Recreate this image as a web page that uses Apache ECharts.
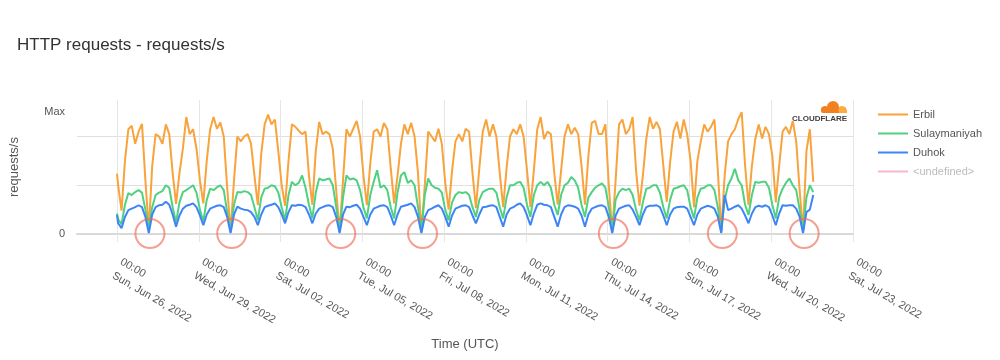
<!DOCTYPE html>
<html>
<head>
<meta charset="utf-8">
<script src="https://cdn.jsdelivr.net/npm/echarts@6/dist/echarts.min.js"></script>
<style>
html,body{margin:0;padding:0;background:#fff;}
#chart{width:1000px;height:360px;}
</style>
</head>
<body>
<div id="chart"></div>
<script>
// Series names
const seriesNames = ['Erbil', 'Sulaymaniyah', 'Duhok', '<undefined>'];
// x tick labels (every 3 days, starting Sun Jun 26 2022 00:00 UTC)
const tickLabels = [
  '00:00\nSun, Jun 26, 2022', '00:00\nWed, Jun 29, 2022', '00:00\nSat, Jul 02, 2022',
  '00:00\nTue, Jul 05, 2022', '00:00\nFri, Jul 08, 2022', '00:00\nMon, Jul 11, 2022',
  '00:00\nThu, Jul 14, 2022', '00:00\nSun, Jul 17, 2022', '00:00\nWed, Jul 20, 2022',
  '00:00\nSat, Jul 23, 2022'
];
// sample times: hours since Jun 26 2022 00:00 UTC (first at 0, then every 3 h from 01:00)
const hours = [0].concat(Array.from({length: 205}, (_, i) => 1 + 3 * i));
// relative request rate (0 .. Max=250)
const erbil = [124,
100,48,150,215,222,185,210,226,
110,8,140,205,200,185,225,205,
125,62,125,175,240,205,215,175,
110,63,150,215,240,216,229,200,
95,5,110,200,190,200,205,185,
120,59,165,225,245,225,235,170,
100,58,150,225,220,212,205,210,
120,60,170,230,205,210,205,175,
90,5,110,215,200,216,232,200,
120,59,145,210,215,200,228,215,
135,63,120,185,225,205,228,200,
125,5,100,210,200,190,216,185,
105,50,130,190,205,190,216,210,
125,53,135,210,235,200,225,200,
125,55,135,200,215,205,225,200,
130,55,130,215,240,195,210,205,
125,60,130,200,225,205,218,205,
140,60,160,228,232,205,205,225,
100,5,110,225,235,205,215,240,
130,58,120,195,240,216,230,215,
140,66,148,210,230,196,235,205,
150,55,150,190,225,210,220,235,
130,5,120,190,205,215,236,250,
140,59,140,195,225,196,220,205,
160,65,140,210,220,205,232,190,
90,5,170,215,107];
const sulaymaniyah = [42,
30,20,60,84,80,86,90,85,
50,10,55,80,85,88,100,95,
55,24,65,86,90,95,100,85,
50,26,70,93,90,96,100,90,
45,6,60,86,85,88,86,80,
55,28,75,93,95,100,98,85,
55,28,80,107,100,105,120,95,
60,32,85,114,110,112,114,100,
55,6,75,120,112,114,110,90,
55,32,80,107,131,95,100,90,
55,32,85,120,127,105,110,100,
55,6,80,114,100,95,93,85,
50,28,65,80,86,84,86,80,
55,35,70,86,90,93,93,85,
55,32,75,100,100,105,107,95,
60,35,80,100,107,100,107,95,
60,39,80,100,105,117,110,95,
60,35,75,86,95,100,104,95,
55,6,70,86,93,90,93,80,
50,28,65,93,95,100,100,85,
55,32,70,93,95,98,100,90,
55,32,75,93,95,100,100,90,
55,6,70,100,114,134,110,100,
60,39,80,107,105,107,107,95,
60,32,75,93,105,114,100,90,
50,6,75,100,86];
const duhok = [39,
22,12,35,49,52,55,59,55,
35,2,40,55,59,60,66,60,
40,15,38,52,58,60,63,55,
38,18,40,52,55,58,59,55,
35,2,40,56,52,50,49,45,
35,18,40,55,58,60,63,55,
40,22,45,59,58,60,59,55,
40,22,42,52,55,58,59,55,
35,2,40,56,55,58,60,52,
35,18,40,52,55,58,59,55,
38,18,40,56,58,60,63,55,
35,2,35,49,52,56,59,52,
35,15,38,52,55,58,59,55,
38,22,40,55,56,58,59,55,
35,15,40,52,55,60,63,55,
38,18,42,60,63,60,59,55,
35,15,40,55,59,58,56,52,
38,15,40,52,55,58,59,55,
35,2,38,52,55,58,59,50,
35,18,40,55,58,58,59,55,
38,18,40,52,55,56,56,52,
35,18,40,52,55,58,56,52,
35,2,80,49,52,56,59,52,
38,22,42,55,58,56,59,55,
38,18,42,59,58,59,59,52,
35,2,45,50,80];
// highlighted outage moments (hours since start), drawn at value 0
const outageHours = [29, 101, 197, 269, 437, 533, 605];

const F = "'Liberation Sans', Arial, Helvetica, sans-serif";
const colors = ['#F8A33C', '#4FD17F', '#3D85F7', '#F7B6CB'];

const chart = echarts.init(document.getElementById('chart'), null, {renderer: 'canvas'});
const lineSeries = [erbil, sulaymaniyah, duhok].map((vals, k) => ({
  name: seriesNames[k],
  type: 'line',
  xAxisIndex: 1, yAxisIndex: 1,
  showSymbol: false,
  symbol: 'none',
  data: hours.map((h, i) => [h, vals[i]]),
  lineStyle: {width: 2, color: colors[k]},
  itemStyle: {color: colors[k]},
  z: 3 + k
}));
lineSeries.push({
  name: seriesNames[3], type: 'line', xAxisIndex: 1, yAxisIndex: 1, data: [],
  lineStyle: {color: colors[3]}, itemStyle: {color: colors[3]}
});
lineSeries.push({
  type: 'scatter', xAxisIndex: 1, yAxisIndex: 1, clip: false,
  data: outageHours.map(h => [h, 1]),
  symbol: 'circle', symbolSize: 29,
  itemStyle: {color: 'rgba(0,0,0,0)', borderColor: 'rgba(240,105,85,0.8)', borderWidth: 2},
  silent: true, z: 10
});

const option = {
  animation: false,
  textStyle: {fontFamily: F},
  title: {
    text: 'HTTP requests - requests/s', left: 17, top: 37, padding: 0,
    textStyle: {fontSize: 17, fontWeight: 'normal', color: '#333', fontFamily: F}
  },
  legend: {
    orient: 'vertical', left: 873, top: 104, itemWidth: 30, itemHeight: 2, itemGap: 8,
    icon: 'rect', selectedMode: false,
    textStyle: {fontSize: 11, color: '#555', fontFamily: F},
    data: [seriesNames[0], seriesNames[1], seriesNames[2],
      {name: seriesNames[3], textStyle: {color: '#bbb'}}]
  },
  grid: [
    {left: 75, right: 147, top: 100, bottom: 126},
    {left: 117, right: 147, top: 100, bottom: 126}
  ],
  xAxis: [
    {gridIndex: 0, type: 'value', min: 0, max: 1,
      axisLine: {show: true, lineStyle: {color: '#d9d9d9', width: 2}},
      axisTick: {show: false}, axisLabel: {show: false}, splitLine: {show: false},
      name: 'Time (UTC)', nameLocation: 'middle', nameGap: 104,
      nameTextStyle: {fontSize: 13, color: '#555', fontFamily: F}},
    {gridIndex: 1, type: 'value', min: 0, max: 648, interval: 72,
      axisLine: {show: false},
      axisTick: {show: true, length: 8, lineStyle: {color: '#e6e6e6'}},
      splitLine: {show: true, lineStyle: {color: '#e6e6e6'}},
      axisLabel: {rotate: -30, margin: 34, fontSize: 11, lineHeight: 16, color: '#555',
        showMinLabel: true, showMaxLabel: true, hideOverlap: false,
        formatter: v => tickLabels[Math.round(v / 72)] || ''}}
  ],
  yAxis: [
    {gridIndex: 0, type: 'value', min: 0, max: 275, interval: 25,
      axisLine: {show: false}, axisTick: {show: false},
      axisLabel: {color: '#555', fontSize: 11, margin: 12,
        formatter: v => v === 0 ? '0' : (v === 250 ? 'Max' : '')},
      splitLine: {show: true, showMaxLine: false,
        lineStyle: {color: ['#e0e0e0', 'rgba(0,0,0,0)', 'rgba(0,0,0,0)', 'rgba(0,0,0,0)']}},
      name: 'requests/s', nameLocation: 'middle', nameRotate: 90, nameGap: 56,
      nameTextStyle: {fontSize: 13, color: '#555', fontFamily: F}},
    {gridIndex: 1, type: 'value', min: 0, max: 275, show: false}
  ],
  graphic: [
    {type: 'rect', shape: {x: 821, y: 107, width: 25, height: 6, r: 2}, style: {fill: '#F38020'}},
    {type: 'circle', shape: {cx: 833, cy: 107, r: 6}, style: {fill: '#F38020'}},
    {type: 'circle', shape: {cx: 825, cy: 109.5, r: 3.5}, style: {fill: '#F38020'}},
    {type: 'circle', shape: {cx: 842, cy: 109.5, r: 3.5}, style: {fill: '#FBAD41'}},
    {type: 'rect', shape: {x: 839, y: 109.5, width: 8, height: 3.5}, style: {fill: '#FBAD41'}},
    {type: 'text', left: 792, top: 115,
      style: {text: 'CLOUDFLARE', font: 'bold 8px ' + F, fill: '#404041'}}
  ],
  series: lineSeries
};
chart.setOption(option);
</script>
</body>
</html>
